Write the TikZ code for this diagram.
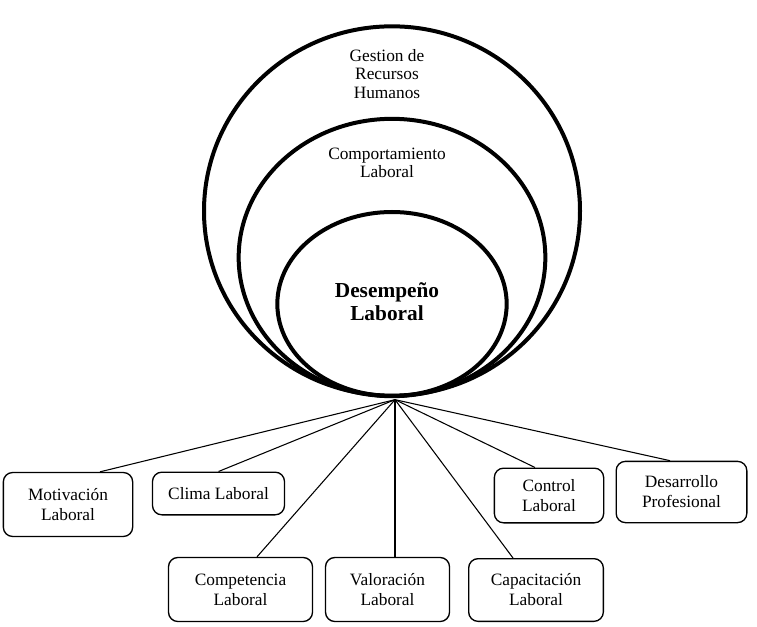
\documentclass[tikz,border=0pt]{standalone}
\usepackage{fontspec}
\setmainfont{Liberation Serif}
\usetikzlibrary{positioning, shapes.geometric, calc}

\begin{document}
\begin{tikzpicture}[
			x=0.75pt, y=-0.75pt,
			ring/.style={ellipse, draw, line width=3pt, inner sep=0pt},
			ringlabel/.style={align=center, font=\fontsize{13}{14}\selectfont},
			block/.style={rectangle, draw, line width=1pt, rounded corners=7pt, align=center, inner sep=0pt, font=\fontsize{13}{15}\selectfont},
			link/.style={line width=0.8pt}
		]
		\useasboundingbox (0,0) rectangle (757,627);
		\node[ring, minimum width=282pt, minimum height=277pt] (outer) at (392,211) {};
		\node[ring, minimum width=230pt, minimum height=208pt] (middle) at (392,257.5) {};
		\node[ring, minimum width=172pt, minimum height=138pt] (inner) at (392,304) {};
		\node[ringlabel] (gestion) at (387,74) {Gestion de\\Recursos\\Humanos};
		\node[ringlabel] (comport) at (387,163) {Comportamiento\\Laboral};
		\node[ringlabel, font=\fontsize{16}{17}\selectfont\bfseries] (desemp) at (387,302) {Desempeño\\Laboral};
		\coordinate (hub) at ($(outer.south)+(3,2)$);

		\node[block, minimum width=97pt, minimum height=48pt] (motiv) at (68,504.5) {Motivación\\Laboral};
		\node[block, minimum width=99pt, minimum height=32pt] (clima) at (218.5,493.5) {Clima Laboral};
		\node[block, minimum width=108pt, minimum height=48pt] (compet) at (240.5,589.5) {Competencia\\Laboral};
		\node[block, minimum width=93pt, minimum height=48pt] (valor) at (387.5,589.5) {Valoración\\Laboral};
		\node[block, minimum width=101pt, minimum height=47pt] (capac) at (536,590) {Capacitación\\Laboral};
		\node[block, minimum width=82pt, minimum height=41pt] (control) at (549,495.5) {Control\\Laboral};
		\node[block, minimum width=98pt, minimum height=46pt] (desarr) at (681.5,492) {Desarrollo\\Profesional};

		\draw[link] (hub) -- ($(motiv.north)+(32,0)$);
		\draw[link] (hub) -- (clima.north);
		\draw[link] (hub) -- ($(compet.north)+(16.5,0)$);
		\draw[link] (hub) -- ($(valor.north)+(7.5,0)$);
		\draw[link] (hub) -- ($(capac.north)+(-23,0)$);
		\draw[link] (hub) -- ($(control.north)+(-14,0)$);
		\draw[link] (hub) -- ($(desarr.north)+(-11.5,0)$);
\end{tikzpicture}
\end{document}
